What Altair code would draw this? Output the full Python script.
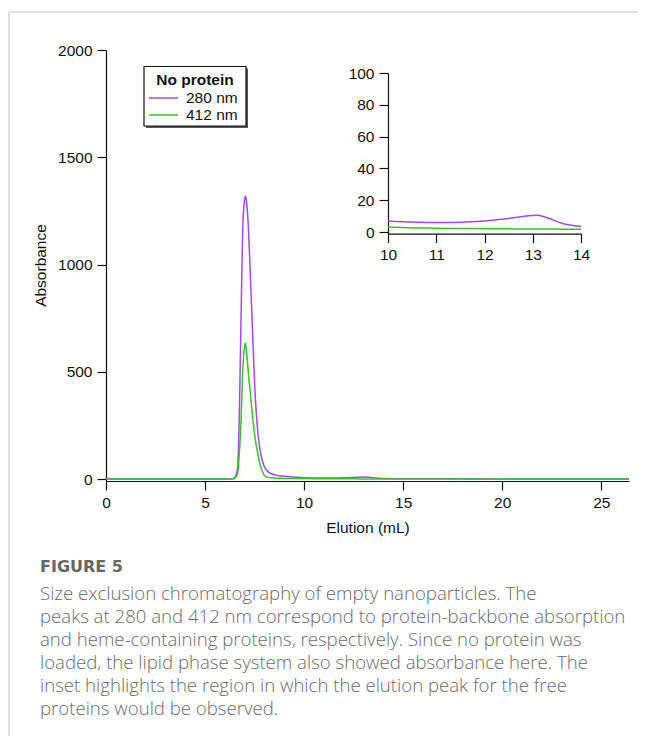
import altair as alt
import pandas as pd

# ---------------- data ----------------
elution = [0, 2, 4, 6, 6.4, 6.55, 6.65, 6.73, 6.82, 6.9, 6.98, 7.03, 7.1, 7.2, 7.3,
           7.4, 7.5, 7.6, 7.75, 7.9, 8.0, 8.15, 8.33, 8.6, 9.0, 9.5, 10, 10.5, 11,
           11.5, 12, 12.5, 12.8, 13.1, 13.3, 13.6, 14, 15, 17, 20, 23, 26.4]
abs_280 = [1, 1, 1, 1, 2, 15, 60, 300, 770, 1160, 1290, 1320, 1290, 1150, 920,
           680, 450, 290, 150, 85, 57, 38, 27, 19, 14, 10, 7, 6.3, 6,
           6.2, 7, 8.5, 9.8, 10.5, 9, 5.5, 3.5, 2.5, 2, 1.5, 1.5, 1.5]
abs_412 = [1, 1, 1, 1, 1.5, 8, 30, 120, 280, 500, 610, 635, 590, 480, 390,
           290, 210, 150, 80, 35, 18, 10, 7, 5, 4.2, 3.6, 3.2, 2.6, 2.4,
           2.2, 2.1, 2.0, 1.9, 1.9, 1.9, 1.8, 1.8, 1.7, 1.5, 1.3, 1.2, 1.2]
series_names = ["280 nm", "412 nm"]
series_colors = ["#a347f0", "#35c424"]
legend_title = "No protein"

main_x_ticks = [0, 5, 10, 15, 20, 25]
main_y_ticks = [0, 500, 1000, 1500, 2000]
inset_x_ticks = [10, 11, 12, 13, 14]
inset_y_ticks = [0, 20, 40, 60, 80, 100]

caption_title = "FIGURE 5"
caption_lines = [
    "Size exclusion chromatography of empty nanoparticles. The",
    "peaks at 280 and 412 nm correspond to protein-backbone absorption",
    "and heme-containing proteins, respectively. Since no protein was",
    "loaded, the lipid phase system also showed absorbance here. The",
    "inset highlights the region in which the elution peak for the free",
    "proteins would be observed.",
]

n = len(elution)
df = pd.DataFrame({
    "elution": elution * 2,
    "absorbance": abs_280 + abs_412,
    "series": [series_names[0]] * n + [series_names[1]] * n,
})
one = pd.DataFrame({"k": [0]})

FONT = "Liberation Sans"
FS = 15.5
W, H = 523, 431
color_scale = alt.Scale(domain=series_names, range=series_colors)

axis_common = dict(
    domainColor="#111", domainWidth=1.2, tickColor="#111", tickWidth=1.2,
    tickSize=9, labelFont=FONT, labelFontSize=FS, labelColor="#111",
    grid=False, titleFont=FONT, titleFontSize=FS, titleColor="#111",
    titleFontWeight="normal", labelFlush=False, format="d", labelAngle=0,
)

main = alt.Chart(df).mark_line(strokeWidth=1.5, interpolate="monotone").encode(
    x=alt.X("elution:Q",
            scale=alt.Scale(domain=[0, 26.4], nice=False, zero=False),
            axis=alt.Axis(values=main_x_ticks, title="Elution (mL)", labelPadding=5,
                          titleY=46, titleBaseline="middle", **axis_common)),
    y=alt.Y("absorbance:Q",
            scale=alt.Scale(domain=[-8, 2000], nice=False, zero=False),
            axis=alt.Axis(values=main_y_ticks, title="Absorbance", labelPadding=5,
                          titleX=-66, titleY=215, titleAngle=-90,
                          titleBaseline="middle", titleAlign="center", **axis_common)),
    color=alt.Color("series:N", scale=color_scale, legend=None),
)

inset = alt.Chart(df).transform_filter(
    (alt.datum.elution >= 10) & (alt.datum.elution <= 14)
).mark_line(strokeWidth=1.5, interpolate="monotone").encode(
    x=alt.X("elution:Q",
            scale=alt.Scale(domain=[10, 14], range=[282, 475], nice=False, zero=False),
            axis=alt.Axis(values=inset_x_ticks, title=None, orient="bottom",
                          offset=-247.4, labelPadding=5, **axis_common)),
    y=alt.Y("absorbance:Q",
            scale=alt.Scale(domain=[-1, 100], range=[183.6, 23], nice=False, zero=False),
            axis=alt.Axis(values=inset_y_ticks, title=None, orient="left",
                          offset=-282, labelPadding=5, **axis_common)),
    color=alt.Color("series:N", scale=color_scale, legend=None),
)

# legend box (drawn by hand)
leg_shadow = alt.Chart(one).mark_rect(fill="#555").encode(
    x=alt.value(40), x2=alt.value(142), y=alt.value(18.5), y2=alt.value(78))
leg_box = alt.Chart(one).mark_rect(fill="white", stroke="#111", strokeWidth=1.2).encode(
    x=alt.value(38), x2=alt.value(140), y=alt.value(16.5), y2=alt.value(76))
leg_title = alt.Chart(one).mark_text(
    text=legend_title, font=FONT, fontSize=15.5, fontWeight="bold", color="#111",
    align="center", baseline="middle").encode(x=alt.value(89), y=alt.value(29.5))

legend_layers = []
for i, name in enumerate(series_names):
    yy = 48 + i * 17
    legend_layers.append(
        alt.Chart(pd.DataFrame({"series": [name]})).mark_rule(strokeWidth=1.5).encode(
            x=alt.value(43), x2=alt.value(72), y=alt.value(yy),
            color=alt.Color("series:N", scale=color_scale, legend=None)))
    legend_layers.append(
        alt.Chart(one).mark_text(text=name, font=FONT, fontSize=15.5, color="#111",
                                 align="left", baseline="middle").encode(
            x=alt.value(80), y=alt.value(yy)))

# page frame lines and caption
frame_left = alt.Chart(one).mark_rule(color="#d4d4d4", strokeWidth=1.5).encode(
    x=alt.value(-97), y=alt.value(-38), y2=alt.value(700))
frame_top = alt.Chart(one).mark_rule(color="#d4d4d4", strokeWidth=1.5).encode(
    x=alt.value(-97), x2=alt.value(540), y=alt.value(-38))

cap_title = alt.Chart(one).mark_text(
    text=caption_title, font="DejaVu Sans", fontSize=16, fontWeight="bold", color="#666666",
    align="left", baseline="alphabetic").encode(x=alt.value(-66), y=alt.value(522))
cap_text = alt.Chart(one).mark_text(
    text=caption_lines, font="Open Sans", fontSize=18.6, fontWeight=300, lineHeight=23,
    color="#6a6a6a", align="left", baseline="alphabetic").encode(
    x=alt.value(-66), y=alt.value(550))

chart = alt.layer(
    main, inset, frame_left, frame_top, leg_shadow, leg_box, leg_title,
    *legend_layers, cap_title, cap_text
).resolve_scale(x="independent", y="independent").properties(
    width=W, height=H,
    background="white",
    autosize=alt.AutoSizeParams(type="none"),
    padding={"left": 98, "top": 42, "right": 9, "bottom": 255},
).configure_view(strokeWidth=0, stroke="transparent")

chart.save("out.html", embed_options={"renderer": "svg", "actions": False})
